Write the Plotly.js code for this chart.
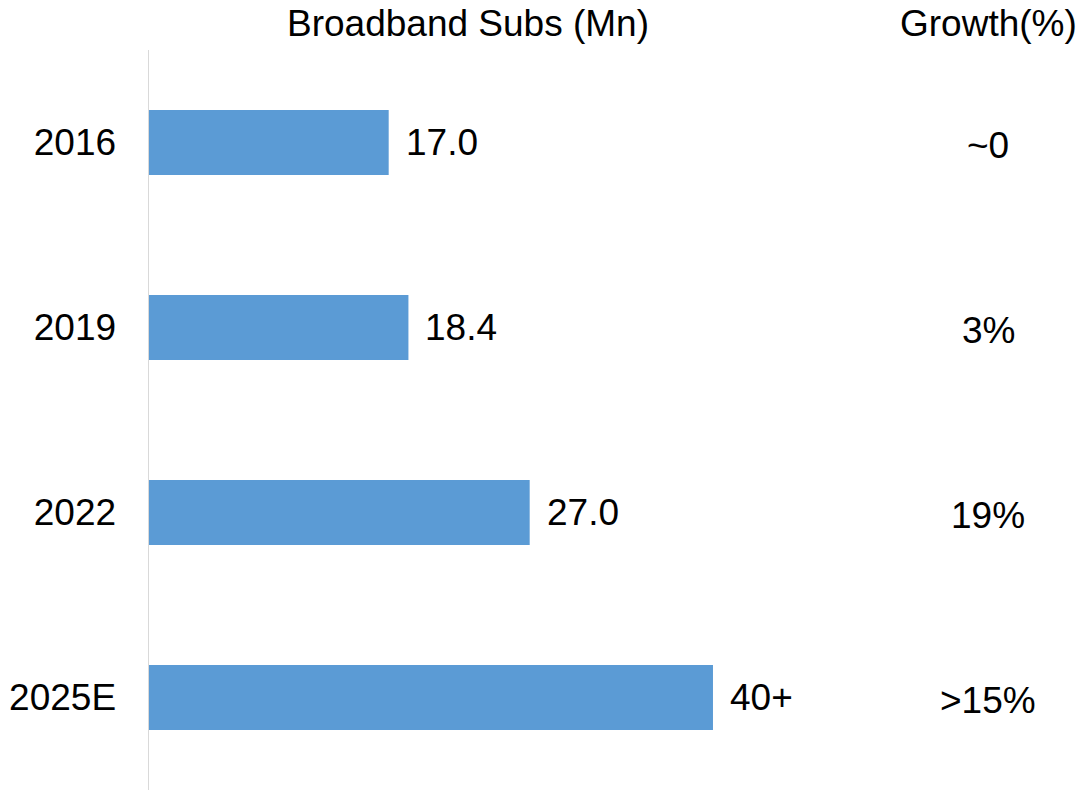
<!DOCTYPE html>
<html>
<head>
<meta charset="utf-8">
<script src="https://cdn.plot.ly/plotly-3.0.1.min.js"></script>
<style>
  html, body { margin: 0; padding: 0; background: #ffffff; }
  #chart { width: 1079px; height: 793px; }
</style>
</head>
<body>
<div id="chart"></div>
<script>
// ---- data ----
const categories = ['2016', '2019', '2022', '2025E'];
const subscribers = [17.0, 18.4, 27.0, 40];
const valueLabels = ['17.0', '18.4', '27.0', '40+'];
const growthLabels = ['~0', '3%', '19%', '>15%'];
const barTitle = 'Broadband Subs (Mn)';
const growthTitle = 'Growth(%)';

// ---- style ----
const FONT = 'Arial, "Liberation Sans", sans-serif';
const FS = 37;
const BAR_COLOR = '#5B9BD5';

const trace = {
  type: 'bar',
  orientation: 'h',
  y: categories,
  x: subscribers,
  marker: { color: BAR_COLOR, line: { width: 0 } },
  hoverinfo: 'skip'
};

const annotations = [];
categories.forEach((c, i) => {
  // on a category axis, annotation positions use the category index
  annotations.push({
    xref: 'x', yref: 'y', x: subscribers[i], y: i,
    text: valueLabels[i], showarrow: false,
    xanchor: 'left', yanchor: 'middle', xshift: 15,
    font: { family: FONT, size: FS, color: '#000000' }
  });
  annotations.push({
    xref: 'paper', yref: 'y', x: 0.9025, y: i,
    text: growthLabels[i], showarrow: false,
    xanchor: 'center', yanchor: 'middle', yshift: -3,
    font: { family: FONT, size: FS, color: '#000000' }
  });
});
annotations.push({
  xref: 'paper', yref: 'paper', x: 0.343, y: 1, yshift: 27,
  text: barTitle, showarrow: false, xanchor: 'center', yanchor: 'middle',
  font: { family: FONT, size: FS, color: '#000000' }
});
annotations.push({
  xref: 'paper', yref: 'paper', x: 0.9025, y: 1, yshift: 27,
  text: growthTitle, showarrow: false, xanchor: 'center', yanchor: 'middle',
  font: { family: FONT, size: FS, color: '#000000' }
});

const layout = {
  width: 1079,
  height: 793,
  margin: { l: 149, r: 0, t: 50, b: 3 },
  paper_bgcolor: '#ffffff',
  plot_bgcolor: '#ffffff',
  showlegend: false,
  bargap: 0.649,
  xaxis: {
    range: [0, 65.96],
    autorange: false,
    showgrid: false, zeroline: false, showline: false,
    showticklabels: false, ticks: ''
  },
  yaxis: {
    type: 'category',
    categoryorder: 'array',
    categoryarray: categories,
    range: [categories.length - 0.5, -0.5],
    autorange: false,
    showgrid: false, zeroline: false,
    showline: true, linecolor: '#D9D9D9', linewidth: 1.5,
    ticks: '',
    ticklabelstandoff: 24,
    tickfont: { family: FONT, size: FS, color: '#000000' }
  },
  annotations: annotations
};

Plotly.newPlot('chart', [trace], layout, { displayModeBar: false, staticPlot: true });
</script>
</body>
</html>
